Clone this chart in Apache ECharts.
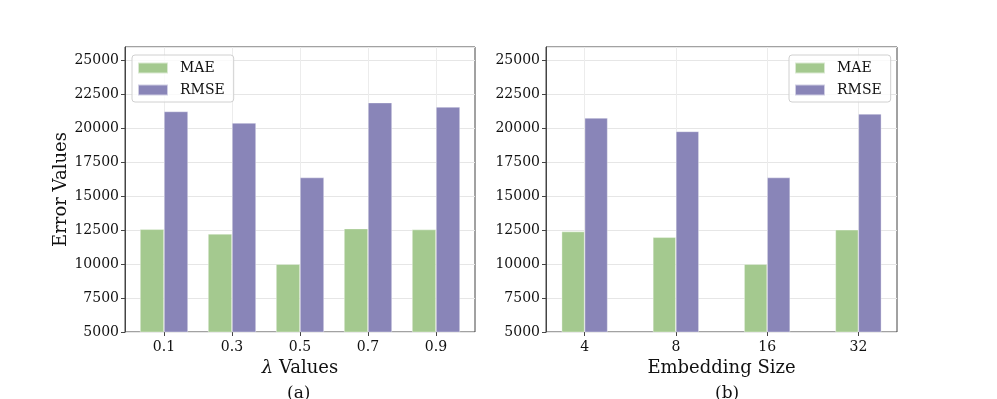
<!DOCTYPE html>
<html>
    <head>
        <meta charset="utf-8">
        <script src="https://cdn.jsdelivr.net/npm/echarts@6/dist/echarts.min.js"></script>
        <style>
            html, body { margin: 0; padding: 0; background: #fff; }
            #main { width: 997px; height: 399px; }
        </style>
    </head>
    <body>
        <div id="main"></div>
        <script>

        // (a) lambda sweep
        var lambdaCats = ['0.1', '0.3', '0.5', '0.7', '0.9'];
        var lambdaMAE = [12570, 12230, 10000, 12620, 12550];
        var lambdaRMSE = [21250, 20400, 16380, 21900, 21580];

        // (b) embedding size sweep
        var embedCats = ['4', '8', '16', '32'];
        var embedMAE = [12400, 11980, 10000, 12530];
        var embedRMSE = [20770, 19780, 16380, 21070];

        var FONT = 'DejaVu Serif';
        var GREEN = '#a4c98f';
        var PURPLE = '#8985b8';
        var Y_MIN = 5000, Y_MAX = 26000;

        // frame grids carry the y axis, split lines and box;
        // data grids carry the bars and category ticks (matplotlib-like margins)
        function frameY(gridIndex, name) {
            return {
                type: 'value',
                gridIndex: gridIndex,
                min: Y_MIN,
                max: Y_MAX,
                interval: 2500,
                name: name,
                nameLocation: 'middle',
                nameGap: 50,
                nameTextStyle: { fontFamily: FONT, fontSize: 18, color: '#111' },
                axisLine: { show: true, lineStyle: { color: '#444' } },
                axisTick: { show: true, length: 4, lineStyle: { color: '#444' } },
                axisLabel: {
                    showMaxLabel: false,
                    margin: 6,
                    formatter: function (v) { return String(v); },
                    fontFamily: FONT, fontSize: 14, color: '#111'
                },
                splitLine: { show: true, lineStyle: { color: '#e6e6e6' } }
            };
        }

        function frameX(gridIndex) {
            return { type: 'value', gridIndex: gridIndex, min: 0, max: 1, show: false };
        }

        function dataY(gridIndex) {
            return { type: 'value', gridIndex: gridIndex, min: Y_MIN, max: Y_MAX, show: false };
        }

        function dataX(gridIndex, cats, name) {
            return {
                type: 'category',
                gridIndex: gridIndex,
                data: cats,
                name: name,
                nameLocation: 'middle',
                nameGap: 24,
                nameTextStyle: {
                    fontFamily: FONT, fontSize: 18, color: '#111',
                    rich: { i: { fontFamily: FONT, fontSize: 18, fontStyle: 'italic', color: '#111' } }
                },
                axisLine: { show: false },
                axisTick: { show: true, alignWithLabel: true, length: 4, lineStyle: { color: '#444' } },
                axisLabel: { margin: 8, fontFamily: FONT, fontSize: 14, color: '#111' },
                splitLine: { show: true, alignWithLabel: true, lineStyle: { color: '#ececec' } }
            };
        }

        function legendAt(left, top) {
            return {
                left: left,
                top: top,
                orient: 'vertical',
                data: ['MAE', 'RMSE'],
                icon: 'rect',
                itemWidth: 30,
                itemHeight: 11,
                itemGap: 8,
                padding: [6, 9, 5, 5],
                borderColor: '#d0d0d0',
                borderWidth: 1,
                borderRadius: 3,
                backgroundColor: 'rgba(255,255,255,0.8)',
                textStyle: { fontFamily: FONT, fontSize: 14, color: '#111', padding: [0, 0, 0, 7] }
            };
        }

        function barSeries(name, data, idx, color, width) {
            return {
                type: 'bar',
                name: name,
                data: data,
                xAxisIndex: idx,
                yAxisIndex: idx,
                barWidth: width,
                barGap: '0%',
                itemStyle: { color: color, borderColor: 'rgba(255,255,255,0.6)', borderWidth: 0.6 }
            };
        }

        var option = {
            animation: false,
            backgroundColor: '#fff',
            grid: [
                { left: 125, top: 47, width: 350, height: 285, show: true, borderColor: '#444', borderWidth: 1 },
                { left: 546, top: 47, width: 351, height: 285, show: true, borderColor: '#444', borderWidth: 1 },
                { left: 130, top: 47, width: 340, height: 285 },
                { left: 539, top: 47, width: 365, height: 285 }
            ],
            xAxis: [
                frameX(0),
                frameX(1),
                dataX(2, lambdaCats, '{i|λ} Values'),
                dataX(3, embedCats, 'Embedding Size')
            ],
            yAxis: [
                frameY(0, 'Error Values'),
                frameY(1, ''),
                dataY(2),
                dataY(3)
            ],
            legend: [
                legendAt(132, 55),
                legendAt(789, 55)
            ],
            series: [
                barSeries('MAE', lambdaMAE, 2, GREEN, 24),
                barSeries('RMSE', lambdaRMSE, 2, PURPLE, 24),
                barSeries('MAE', embedMAE, 3, GREEN, 23),
                barSeries('RMSE', embedRMSE, 3, PURPLE, 23)
            ],
            graphic: [
                { type: 'text', left: 287, top: 385, style: { text: '(a)', fontFamily: FONT, fontSize: 17, fill: '#111' } },
                { type: 'text', left: 715, top: 385, style: { text: '(b)', fontFamily: FONT, fontSize: 17, fill: '#111' } }
            ]
        };

        var myChart = echarts.init(document.getElementById('main'));
        myChart.setOption(option);

        </script>
    </body>
</html>
